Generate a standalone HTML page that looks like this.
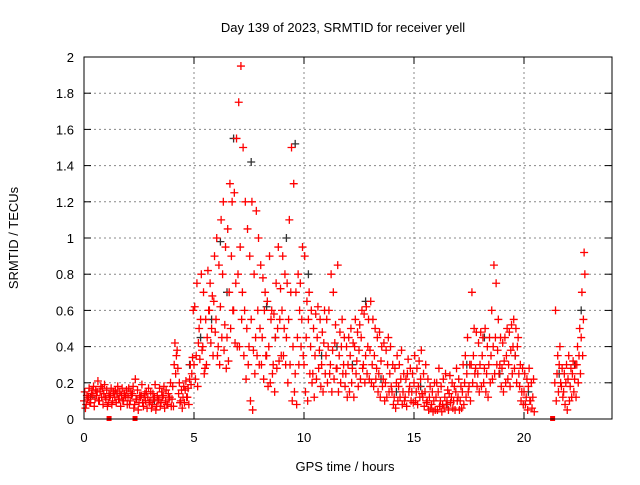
<!DOCTYPE html>
<html><head><meta charset="utf-8"><style>
body{margin:0;background:#fff;width:640px;height:480px;overflow:hidden}
svg text{font-family:"Liberation Sans",sans-serif;font-size:13px;fill:#000}
</style></head><body>
<svg id="chart" width="640" height="480" xmlns="http://www.w3.org/2000/svg">
<text x="343" y="32" text-anchor="middle">Day 139 of 2023, SRMTID for receiver yell</text>
<text transform="translate(18,238) rotate(-90)" text-anchor="middle">SRMTID / TECUs</text>
<text x="345" y="471" text-anchor="middle">GPS time / hours</text>
<g id="grid"></g>
<g id="marks"></g>
<rect x="84" y="57" width="528" height="362" fill="none" stroke="#000" stroke-width="1"/>
<g id="ticks"></g>
</svg>
<script>
const xTicks=[0,5,10,15,20];
const yTicks=[0,0.2,0.4,0.6,0.8,1,1.2,1.4,1.6,1.8,2];
const yTickLabels=["0","0.2","0.4","0.6","0.8","1","1.2","1.4","1.6","1.8","2"];
const seg1Start=0.0;
const seg1A=[.10,.08,.12,.09,.13,.11,.15,.10,.12,.14,.11,.09,.13,.10,.12,.14,.11,.13,.10,.12,.12,.10,.14,.08,.11,.09,.13,.07,.10,.12,.10,.08,.12,.07,.11,.09,.13,.10,.08,.12,.11,.30,.35,.14,.10,.12,.16,.12,.22,.25,.30,.35,.42,.55,.40,.28,.45,.60,.50,.65,.55,.40,.62,.80,.52,.45,.70,.90,.60,.75,.80,.95,.70,.60,.50,.40,.55,.38,.45,.60,.50,.45,.60,.35,.40,.55,.30,.45,.50,.55,.60,.50,.45,.55,.70,.40,.25,.45,.60,.55,.30,.45,.55,.40,.25,.35,.45,.38,.30,.42,.35,.40,.30,.38,.42,.28,.35,.40,.30,.25,.30,.35,.28,.40,.32,.38,.45,.30,.35,.40,.38,.30,.35,.28,.25,.32,.22,.20,.30,.25,.15,.12,.20,.18,.22,.15,.12,.25,.18,.15,.20,.15,.18,.22,.12,.15,.10,.12,.08,.10,.12,.15,.10,.08,.12,.10,.14,.12,.10,.15,.12,.10,.15,.20,.25,.18,.30,.35,.28,.25,.30,.35,.28,.25,.30,.35,.40,.45,.38,.30,.28,.32,.35,.30,.38,.40,.35,.40,.18,.15,.15,.12,.18,.10,.12];
const seg1B=[.15,.13,.17,.14,.18,.16,.21,.15,.17,.19,.16,.14,.17,.15,.16,.18,.15,.17,.14,.16,.17,.15,.18,.22,.16,.13,.19,.12,.15,.17,.15,.14,.19,.13,.17,.15,.18,.16,.14,.20,.18,.42,.38,.20,.16,.18,.21,.17,.30,.34,.62,.75,.50,.80,.70,.55,.82,.75,.68,.90,1.0,.85,1.1,1.2,.95,1.05,1.3,1.2,1.25,1.55,1.75,1.95,1.50,1.20,1.05,.90,1.2,.80,1.15,1.0,.85,.78,.70,.65,.90,.60,.58,.75,.95,.72,.90,.80,.75,1.1,1.5,1.3,.70,.80,.75,.95,.90,.65,.70,.60,.50,.58,.62,.55,.48,.60,.55,.60,.80,.70,.52,.85,.48,.55,.45,.40,.45,.50,.42,.55,.48,.52,.60,.58,.62,.55,.65,.55,.50,.45,.48,.40,.42,.38,.45,.40,.30,.28,.35,.30,.38,.25,.22,.33,.28,.25,.35,.28,.32,.38,.25,.30,.22,.18,.15,.20,.20,.28,.18,.22,.25,.16,.24,.20,.18,.28,.22,.18,.30,.35,.45,.30,.70,.50,.48,.42,.48,.45,.50,.40,.45,.60,.85,.75,.55,.45,.42,.45,.50,.48,.52,.55,.50,.45,.30,.28,.25,.22,.28,.20,.22];
const seg1C=[.06,.11,.09,.16,.07,.13,.10,.18,.08,.12,.07,.12,.08,.14,.09,.11,.07,.10,.13,.08,.08,.13,.06,.11,.05,.12,.09,.14,.06,.09,.06,.11,.05,.10,.07,.12,.06,.08,.11,.07,.07,.25,.28,.09,.06,.09,.12,.08,.19,.60,.22,.18,.33,.38,.25,.30,.60,.42,.35,.48,.35,.30,.45,.38,.28,.32,.50,.60,.42,.40,.40,.55,.35,.22,.30,.10,.05,.25,.35,.30,.30,.22,.35,.18,.20,.25,.15,.28,.32,.35,.35,.30,.20,.30,.10,.15,.08,.30,.40,.35,.15,.10,.25,.20,.12,.22,.28,.18,.15,.25,.20,.25,.15,.22,.28,.15,.20,.25,.18,.12,.15,.20,.12,.25,.18,.22,.28,.20,.25,.22,.20,.18,.22,.15,.12,.18,.10,.12,.15,.18,.08,.06,.10,.12,.08,.10,.07,.15,.10,.09,.10,.08,.12,.14,.07,.09,.05,.06,.04,.05,.05,.07,.04,.06,.08,.05,.09,.06,.05,.10,.05,.06,.08,.12,.15,.10,.20,.25,.18,.15,.18,.20,.15,.12,.20,.22,.25,.30,.25,.18,.15,.20,.22,.18,.25,.28,.20,.25,.10,.08,.08,.05,.10,.06,.04];
const seg2Start=21.4;
const seg2A=[.20,.25,.30,.18,.15,.20,.22,.18,.25,.22,.30,.35,.45,.55];
const seg2B=[.60,.35,.40,.28,.25,.30,.35,.28,.32,.30,.40,.50,.70,.92];
const seg2C=[.10,.15,.20,.12,.08,.05,.10,.12,.15,.12,.20,.25,.35,.80];
const blackT=[0.3,1.5,3.2,4.8,5.3,5.8,6.2,6.5,6.8,7.6,8.3,8.7,9.2,9.6,10.2,10.8,11.5,12.2,12.8,13.5,14.2,15.3,16.5,17.4,18.2,18.9,19.6,20.2,21.6,22.3,22.6];
const blackV=[.12,.14,.10,.30,.45,.55,.98,.70,1.55,1.42,.62,.45,1.0,1.52,.80,.35,.40,.30,.65,.22,.15,.18,.08,.30,.45,.25,.35,.15,.25,.30,.60];
const gapT=[1.14,2.32,21.3];
const step=0.1;
const X=t=>84+t*22, Y=v=>419-v*181;
const NS="http://www.w3.org/2000/svg";
const grid=document.getElementById('grid'),ticks=document.getElementById('ticks'),marks=document.getElementById('marks');
function line(p,x1,y1,x2,y2,st,dash){const l=document.createElementNS(NS,'line');l.setAttribute('x1',x1);l.setAttribute('y1',y1);l.setAttribute('x2',x2);l.setAttribute('y2',y2);l.setAttribute('stroke',st);if(dash)l.setAttribute('stroke-dasharray',dash);p.appendChild(l);return l;}
xTicks.forEach(t=>{
 const g=line(grid,X(t),57,X(t),419,'#888','2,3');
 
 
 line(ticks,X(t),419,X(t),412,'#000');line(ticks,X(t),57,X(t),64,'#000');
 const tx=document.createElementNS(NS,'text');tx.setAttribute('x',X(t));tx.setAttribute('y',442);tx.setAttribute('text-anchor','middle');tx.textContent=t;
 
 
 ticks.appendChild(tx);
});
yTicks.forEach((v,i)=>{
 const g=line(grid,84,Y(v),612,Y(v),'#888','2,3');
 
 
 line(ticks,84,Y(v),91,Y(v),'#000');line(ticks,612,Y(v),605,Y(v),'#000');
 const tx=document.createElementNS(NS,'text');tx.setAttribute('x',74);tx.setAttribute('y',Y(v)+5);tx.setAttribute('text-anchor','end');tx.textContent=yTickLabels[i];
 
 
 ticks.appendChild(tx);
});
function plus(t,v,c){const p=document.createElementNS(NS,'path');const x=X(t),y=Y(v);p.setAttribute('d',`M${x-4} ${y}H${x+4}M${x} ${y-4}V${y+4}`);p.setAttribute('stroke',c);p.setAttribute('stroke-width','1.3');
 
 
 marks.appendChild(p);}
blackT.forEach((t,i)=>plus(t,blackV[i],'#333'));
[[seg1Start,seg1A,0],[seg1Start,seg1B,0.033],[seg1Start,seg1C,0.066],[seg2Start,seg2A,0],[seg2Start,seg2B,0.033],[seg2Start,seg2C,0.066]].forEach(([s,arr,o])=>{
 arr.forEach((v,i)=>plus(s+i*step+o,v,'#f00'));
});
gapT.forEach(t=>{const r=document.createElementNS(NS,'rect');r.setAttribute('x',X(t)-2.5);r.setAttribute('y',416);r.setAttribute('width',5);r.setAttribute('height',5);r.setAttribute('fill','#f00');
 
 
 marks.appendChild(r);});
</script>
</body></html>
